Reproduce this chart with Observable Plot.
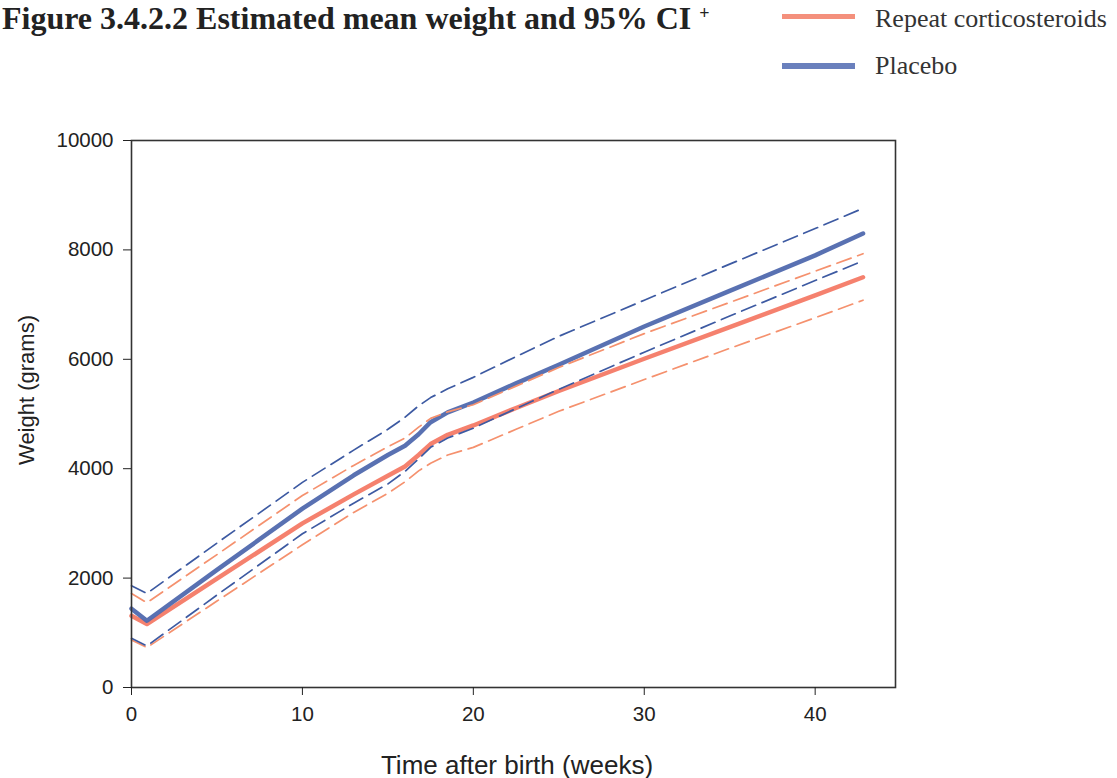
<!DOCTYPE html>
<html>
<head>
<meta charset="utf-8">
<script src="https://cdn.jsdelivr.net/npm/d3@7"></script>
<script src="https://cdn.jsdelivr.net/npm/@observablehq/plot@0.6"></script>
<style>
  html, body { margin: 0; padding: 0; background: #fff; }
  #wrap { position: relative; width: 1117px; height: 778px; overflow: hidden; background: #fff; }
  #chart { position: absolute; left: 0; top: 0; }
  .title { position: absolute; left: 2px; top: -5px; font-family: "Liberation Serif", "Times New Roman", serif; font-weight: bold; font-size: 32px; color: #222; white-space: nowrap; line-height: 36px; }
  .title sup { font-size: 18px; vertical-align: 10px; }
  .leg { position: absolute; font-family: "Liberation Serif", "Times New Roman", serif; font-size: 26px; color: #333; white-space: nowrap; line-height: 30px; }
  .legline { position: absolute; left: 782px; width: 73px; }
  .ytitle { position: absolute; left: 27px; top: 390px; transform: translate(-50%, -50%) rotate(-90deg); font-family: "Liberation Sans", Arial, sans-serif; font-size: 22px; color: #222; white-space: nowrap; }
  .xtitle { position: absolute; left: 517px; top: 765px; transform: translate(-50%, -50%); font-family: "Liberation Sans", Arial, sans-serif; font-size: 26px; color: #222; white-space: nowrap; }
</style>
</head>
<body>
<div id="wrap">
  <div id="chart"></div>
  <div class="title">Figure 3.4.2.2 Estimated mean weight and 95% CI <sup>+</sup></div>
  <div class="legline" style="top:14px;height:5px;background:#f4907c;"></div>
  <div class="leg" style="left:875px;top:4px;">Repeat corticosteroids</div>
  <div class="legline" style="top:63px;height:6px;background:#6a80bd;"></div>
  <div class="leg" style="left:875px;top:51px;">Placebo</div>
  <div class="ytitle">Weight (grams)</div>
  <div class="xtitle">Time after birth (weeks)</div>
</div>
<script>
// ---- data ----
const weeks          = [0,    0.9,  5,    10,   13,   15,   16,   16.8, 17.5, 18.5, 20,   22.5, 25,   30,   35,   40,   42.8];
const placeboMean    = [1440, 1220, 2150, 3270, 3880, 4250, 4420, 4630, 4850, 5030, 5210, 5560, 5900, 6600, 7250, 7900, 8300];
const placeboUpper   = [1860, 1720, 2640, 3750, 4340, 4720, 4940, 5150, 5300, 5460, 5670, 6050, 6420, 7080, 7740, 8390, 8760];
const placeboLower   = [900,  760,  1690, 2810, 3370, 3720, 3950, 4180, 4390, 4560, 4740, 5100, 5450, 6130, 6790, 7440, 7800];
const repeatMean     = [1310, 1160, 1990, 3000, 3530, 3870, 4040, 4250, 4450, 4620, 4790, 5110, 5420, 6010, 6590, 7170, 7500];
const repeatUpper    = [1720, 1550, 2430, 3510, 4060, 4400, 4560, 4760, 4920, 5040, 5170, 5510, 5850, 6470, 7040, 7610, 7930];
const repeatLower    = [870,  730,  1580, 2610, 3200, 3550, 3760, 3960, 4100, 4250, 4390, 4720, 5050, 5630, 6200, 6760, 7080];

const seriesNames  = ["Placebo", "Repeat corticosteroids", "Placebo upper", "Placebo lower", "Repeat upper", "Repeat lower"];
const seriesColors = ["#5069ae", "#f47a66", "#3d5aa2", "#3d5aa2", "#f5916e", "#f5916e"];

const xTicks = [0, 10, 20, 30, 40];
const yTicks = [0, 2000, 4000, 6000, 8000, 10000];

const toRows = (name, vals) => weeks.map((w, i) => ({series: name, week: w, value: vals[i]}));
const meanRows = [
  ...toRows("Repeat corticosteroids", repeatMean),
  ...toRows("Placebo", placeboMean)
];
const ciRows = [
  ...toRows("Repeat upper", repeatUpper),
  ...toRows("Repeat lower", repeatLower),
  ...toRows("Placebo upper", placeboUpper),
  ...toRows("Placebo lower", placeboLower)
];

const chart = Plot.plot({
  width: 1117,
  height: 778,
  marginLeft: 131,
  marginRight: 222,
  marginTop: 140,
  marginBottom: 91,
  style: {fontFamily: "'Liberation Sans', Arial, sans-serif", fontSize: "20.5px", color: "#222", background: "transparent"},
  x: {domain: [0, 44.7]},
  y: {domain: [0, 10000]},
  color: {domain: seriesNames, range: seriesColors},
  marks: [
    Plot.line(meanRows, {x: "week", y: "value", z: "series", stroke: "series", strokeWidth: 4.5, curve: "linear", strokeOpacity: 0.95, strokeLinejoin: "round"}),
    Plot.line(ciRows, {x: "week", y: "value", z: "series", stroke: "series", strokeWidth: 1.7, strokeDasharray: "15,7", curve: "linear"}),
    Plot.frame({stroke: "#333", strokeWidth: 1.6}),
    Plot.axisX({ticks: xTicks, tickSize: 8, tickPadding: 11, label: null, tickFormat: d => String(d)}),
    Plot.axisY({ticks: yTicks, tickSize: 8, tickPadding: 10, label: null, tickFormat: d => String(d)})
  ]
});
document.getElementById("chart").appendChild(chart);
</script>
</body>
</html>
